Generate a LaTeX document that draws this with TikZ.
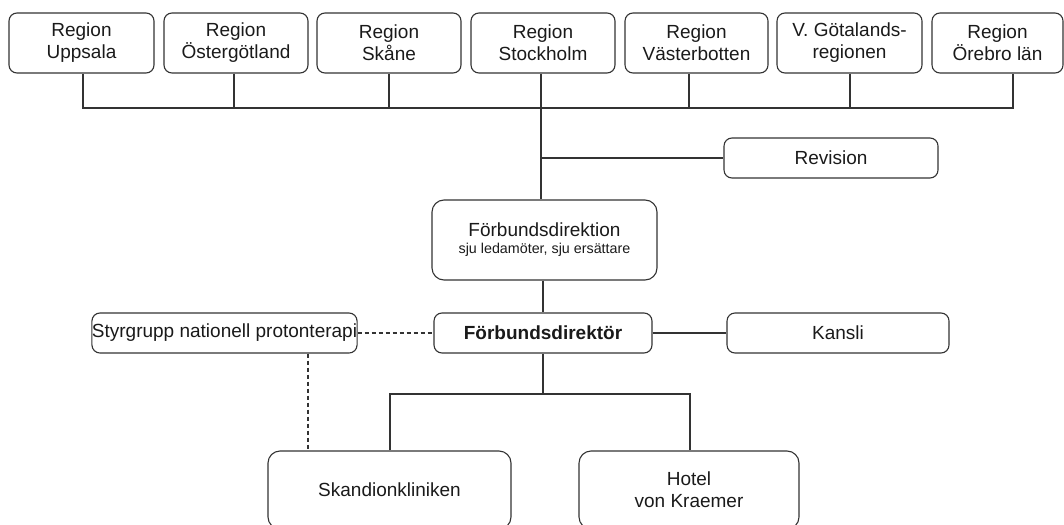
\documentclass[tikz,border=0pt]{standalone}
\usepackage{fontspec}
\setmainfont{Liberation Sans}
\definecolor{linec}{HTML}{333333}
\definecolor{txtc}{HTML}{1A1A1A}
\begin{document}
\begin{tikzpicture}[x=1pt,y=-1pt,
  box/.style={draw=linec, line width=1.1pt, rounded corners=8pt, inner sep=0pt,
    align=center, font=\fontsize{19}{22}\selectfont, text=txtc},
  bigbox/.style={box, rounded corners=12pt},
  conn/.style={draw=linec, line width=1.1pt},
  dconn/.style={conn, dash pattern=on 4pt off 3pt}]
\useasboundingbox (0,0) rectangle (1064,524);
\clip (0,0) rectangle (1064,524);

% top row
\node[box, minimum width=145pt, minimum height=60pt] (b1) at (81.5,43) {Region\\Uppsala};
\node[box, minimum width=144pt, minimum height=60pt] (b2) at (236,43) {Region\\Östergötland};
\node[box, minimum width=144pt, minimum height=60pt] (b3) at (389,43) {Region\\Skåne};
\node[box, minimum width=144pt, minimum height=60pt] (b4) at (543,43) {Region\\Stockholm};
\node[box, minimum width=143pt, minimum height=60pt] (b5) at (696.5,43) {Region\\Västerbotten};
\node[box, minimum width=145pt, minimum height=60pt] (b6) at (849.5,43) {V. Götalands-\\regionen};
\node[box, minimum width=131pt, minimum height=60pt] (b7) at (997.5,43) {Region\\Örebro län};

% middle
\node[box, minimum width=214pt, minimum height=40pt] (rev) at (831,158) {Revision};
\node[bigbox, minimum width=225pt, minimum height=80pt] (dir) at (544.5,240)
  {Förbundsdirektion\\[-5pt]{\fontsize{14.3}{17}\selectfont sju ledamöter, sju ersättare}};
\node[box, minimum width=218pt, minimum height=40pt, font=\fontsize{19}{22}\selectfont\bfseries] (fd) at (543,333) {Förbundsdirektör};
\node[box, minimum width=222pt, minimum height=40pt] (kan) at (838,333) {Kansli};
\node[box, minimum width=265pt, minimum height=40pt] (sty) at (224.5,333) {Styrgrupp nationell protonterapi};

% bottom
\node[bigbox, minimum width=243pt, minimum height=78pt] (sk) at (389.5,490) {Skandionkliniken};
\node[bigbox, minimum width=220pt, minimum height=78pt] (ho) at (689,490) {Hotel\\von Kraemer};

% bus at top
\coordinate (busL) at (83,108);
\coordinate (busR) at (1013,108);
\draw[conn] ([xshift=1.5pt]b1.south) -- ([xshift=1.5pt]b1.south |- busL) -- (busR) -- ([xshift=15.5pt]b7.south);
\draw[conn] ([xshift=-2pt]b2.south) -- ([xshift=-2pt]b2.south |- busL);
\draw[conn] (b3.south) -- (b3.south |- busL);
\draw[conn] ([xshift=-7.5pt]b5.south) -- ([xshift=-7.5pt]b5.south |- busL);
\draw[conn] ([xshift=0.5pt]b6.south) -- ([xshift=0.5pt]b6.south |- busL);
\draw[conn] ([xshift=-2pt]b4.south) -- ([xshift=-2pt]b4.south |- dir.north);
\coordinate (revj) at (541,158);
\draw[conn] (revj) -- (rev.west);

\draw[conn] ([xshift=-1.5pt]dir.south) -- (fd.north);
\draw[conn] (fd.east) -- (kan.west);
\draw[dconn] (sty.east) -- (fd.west);
\draw[dconn] ([xshift=83.5pt]sty.south) -- ([xshift=83.5pt]sty.south |- sk.north);

\coordinate (bus2) at (543,394);
\draw[conn] (fd.south) -- (bus2);
\draw[conn] ([xshift=0.5pt]sk.north) -- ([xshift=0.5pt]sk.north |- bus2) -- ([xshift=1pt]ho.north |- bus2) -- ([xshift=1pt]ho.north);
\end{tikzpicture}
\end{document}
